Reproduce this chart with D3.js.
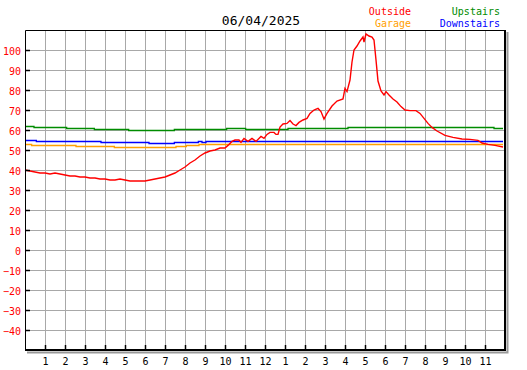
<!DOCTYPE html>
<html>
<head>
<meta charset="utf-8">
<script src="https://cdn.jsdelivr.net/npm/d3@7"></script>
<style>
  body { margin: 0; background: #fff; }
  svg text { font-family: "DejaVu Sans Mono", monospace; }
</style>
</head>
<body>
<svg id="chart" width="527" height="370"></svg>
<script>
// readings, [time, degrees F]
var outside = [
  ["00:00", 40], ["00:15", 39.5], ["00:30", 39], ["00:45", 38.5], ["01:00", 38.5],
  ["01:15", 38], ["01:30", 38.5], ["01:45", 38], ["02:00", 37.5], ["02:15", 37],
  ["02:30", 37], ["02:45", 36.5], ["03:00", 36.5], ["03:15", 36], ["03:30", 36],
  ["03:45", 35.5], ["04:00", 35.5], ["04:15", 35], ["04:30", 35], ["04:45", 35.5],
  ["05:00", 35], ["05:15", 34.5], ["05:30", 34.5], ["05:45", 34.5], ["06:00", 34.5],
  ["06:15", 35], ["06:30", 35.5], ["06:45", 36], ["07:00", 36.5], ["07:15", 37.5],
  ["07:30", 38.5], ["07:45", 40], ["08:00", 41.5], ["08:15", 43.5], ["08:30", 45],
  ["08:45", 47], ["09:00", 48.5], ["09:15", 49.5], ["09:30", 50], ["09:45", 51],
  ["10:00", 51], ["10:09", 52.3], ["10:21", 54.3], ["10:30", 55], ["10:42", 55],
  ["10:48", 53.8], ["10:57", 55.8], ["11:09", 54.3], ["11:21", 55.8], ["11:33", 54.3],
  ["11:48", 56.8], ["11:57", 55.8], ["12:06", 57.8], ["12:15", 58.8], ["12:27", 58.8],
  ["12:33", 57.8], ["12:39", 57.8], ["12:45", 61.5], ["12:54", 63], ["13:06", 63.3],
  ["13:15", 64.7], ["13:24", 63], ["13:33", 62.2], ["13:42", 63.8], ["13:54", 65],
  ["14:06", 65.8], ["14:15", 68.3], ["14:27", 70], ["14:39", 70.8], ["14:48", 69.2],
  ["14:57", 65.5], ["15:06", 68.3], ["15:21", 72], ["15:36", 74.5], ["15:54", 75.5],
  ["16:00", 80.8], ["16:06", 79.2], ["16:15", 85], ["16:21", 94], ["16:27", 100],
  ["16:36", 102], ["16:45", 104.5], ["16:54", 106.5], ["16:57", 104], ["17:03", 108],
  ["17:12", 107], ["17:21", 106.5], ["17:27", 105], ["17:33", 95], ["17:39", 84.5],
  ["17:48", 79.5], ["17:57", 77.5], ["18:03", 79.2], ["18:12", 77.5], ["18:24", 75.5],
  ["18:36", 74], ["18:48", 71.7], ["19:00", 70], ["19:15", 69.7], ["19:33", 69.7],
  ["19:45", 68.3], ["19:57", 65.8], ["20:09", 63.3], ["20:21", 61.3], ["20:36", 59.5],
  ["21:00", 57.3], ["21:24", 56.3], ["21:51", 55.5], ["22:15", 55.3], ["22:39", 54.8],
  ["22:51", 53.5], ["23:09", 52.8], ["23:30", 52.3], ["23:54", 51.5]
];
// the indoor ones only change in small steps
var garage = [
  ["00:00", 53], ["00:20", 52.5], ["02:33", 52], ["04:28", 51.5], ["07:33", 52],
  ["08:04", 52.5], ["08:42", 53], ["23:54", 53]
];
var upstairs = [
  ["00:00", 62], ["00:27", 61.5], ["02:05", 61], ["03:28", 60.5], ["05:11", 60],
  ["07:28", 60.5], ["10:05", 61], ["11:02", 60.5], ["13:09", 61], ["16:09", 61.5],
  ["23:27", 61], ["23:54", 61]
];
var downstairs = [
  ["00:00", 55], ["00:34", 54.5], ["03:48", 54], ["06:12", 53.5], ["07:28", 54],
  ["08:40", 54.5], ["08:51", 54], ["09:03", 54.5], ["23:54", 54.5]
];

var yTicks = d3.range(-40, 101, 10);
var hourTicks = d3.range(1, 24);
var title = "06/04/2025";

var svg = d3.select("#chart");
var plotLeft = 25, plotTop = 30, plotW = 480, plotH = 320;

var x = d3.scaleLinear().domain([0, 24]).range([plotLeft, plotLeft + plotW]);
var y = d3.scaleLinear().domain([-50, 110]).range([plotTop + plotH, plotTop]);

function hours(t) {
  var p = t.split(":");
  return +p[0] + p[1] / 60;
}

// frame shadow
svg.append("path")
  .attr("d", "M" + (plotLeft + plotW + 2.5) + "," + (plotTop + 2) + "V" + (plotTop + plotH + 2.5) + "H" + (plotLeft + 2))
  .attr("fill", "none").attr("stroke", "#999").attr("stroke-width", 2);

// grid
svg.append("g")
  .attr("transform", "translate(0," + (plotTop + plotH) + ")")
  .call(d3.axisBottom(x).tickValues(hourTicks).tickSize(-plotH).tickFormat(""))
  .call(function(g){ g.select(".domain").remove(); })
  .selectAll("line").attr("stroke", "#a8a8a8");
svg.append("g")
  .attr("transform", "translate(" + plotLeft + ",0)")
  .call(d3.axisLeft(y).tickValues(yTicks).tickSize(-plotW).tickFormat(""))
  .call(function(g){ g.select(".domain").remove(); })
  .selectAll("line").attr("stroke", "#a8a8a8");

// lines
var line = d3.line()
  .x(function(d){ return x(hours(d[0])); })
  .y(function(d){ return y(d[1]); });
var stepLine = d3.line()
  .curve(d3.curveStepAfter)
  .x(function(d){ return x(hours(d[0])); })
  .y(function(d){ return Math.round(y(d[1])) + 0.5; });

var series = [
  {data: upstairs, color: "#008c00", step: true},
  {data: downstairs, color: "#0000ff", step: true},
  {data: garage, color: "#ffa000", step: true},
  {data: outside, color: "#ff0000", step: false}
];
series.forEach(function(s){
  svg.append("path")
    .attr("d", s.step ? stepLine(s.data) : line(s.data))
    .attr("fill", "none")
    .attr("stroke", s.color)
    .attr("stroke-width", s.step ? 1.3 : 1.4);
});

// axes
var yAxis = svg.append("g")
  .attr("transform", "translate(" + plotLeft + ",0)")
  .call(d3.axisLeft(y).tickValues(yTicks).tickSizeInner(-5).tickSizeOuter(0).tickPadding(4));
yAxis.select(".domain").remove();
yAxis.selectAll("line").attr("stroke", "#000").attr("stroke-width", 1.5);
yAxis.selectAll("text").attr("fill", "#ff0000").style("font-size", "10px")
  .attr("dy", "0.4em");

var xAxis = svg.append("g")
  .attr("transform", "translate(0," + (plotTop + plotH) + ")")
  .call(d3.axisBottom(x).tickValues(hourTicks).tickSizeInner(-5).tickSizeOuter(0).tickPadding(8)
    .tickFormat(function(h){ return h % 12 || 12; }));
xAxis.select(".domain").remove();
xAxis.selectAll("line").attr("stroke", "#000").attr("stroke-width", 1.5);
xAxis.selectAll("text").attr("fill", "#000").style("font-size", "10px");

// frame
svg.append("path")
  .attr("d", "M" + (plotLeft + 0.5) + "," + (plotTop + plotH) + "V" + (plotTop + 0.5) + "H" + (plotLeft + plotW))
  .attr("fill", "none").attr("stroke", "#000").attr("stroke-width", 1);
svg.append("path")
  .attr("d", "M" + (plotLeft + plotW) + "," + plotTop + "V" + (plotTop + plotH) + "H" + plotLeft)
  .attr("fill", "none").attr("stroke", "#000").attr("stroke-width", 2);

// title + legend
svg.append("text").attr("x", 261).attr("y", 25)
  .attr("text-anchor", "middle").style("font-size", "13px").text(title);

var legend = [
  {name: "Outside", color: "#ff0000", x: 411, y: 15},
  {name: "Garage", color: "#ffa000", x: 411, y: 27},
  {name: "Upstairs", color: "#008c00", x: 500, y: 15},
  {name: "Downstairs", color: "#0000ff", x: 500, y: 27}
];
svg.selectAll(".legend").data(legend).enter()
  .append("text").attr("class", "legend")
  .attr("x", function(d){ return d.x; })
  .attr("y", function(d){ return d.y; })
  .attr("text-anchor", "end")
  .attr("fill", function(d){ return d.color; })
  .style("font-size", "10px")
  .text(function(d){ return d.name; });
</script>
</body>
</html>
